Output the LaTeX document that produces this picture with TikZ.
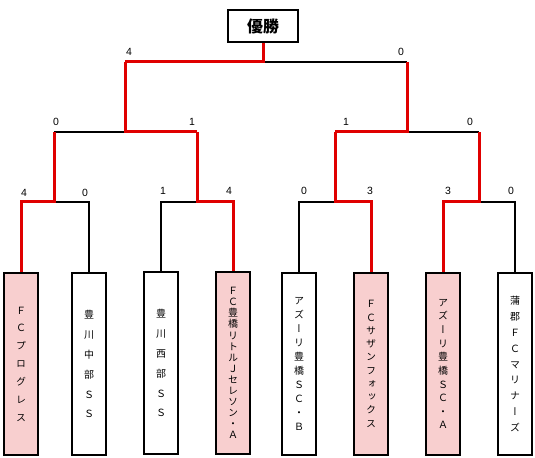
\documentclass[tikz,border=0pt]{standalone}
\usepackage{fontspec}
\setmainfont{Liberation Sans}
\newfontfamily\cjk{Noto Sans CJK JP}
\newfontfamily\cjkv[RawFeature=+vert]{Noto Sans CJK JP}
\definecolor{winred}{RGB}{224,0,0}
\definecolor{winpink}{RGB}{248,207,207}
\tikzset{
  team/.style={draw=black, line width=1.8bp, minimum width=34bp, minimum height=182bp,
    inner sep=0pt, align=center},
  winteam/.style={team, fill=winpink},
  champ/.style={draw=black, line width=1.8bp, minimum width=70bp, minimum height=32bp,
    inner sep=0pt, font=\cjk\bfseries\fontsize{16}{18}\selectfont},
  lose/.style={draw=black, line width=1.6bp, line join=miter},
  win/.style={draw=winred, line width=3bp, line join=miter},
  score/.style={font=\fontsize{10.5}{12}\selectfont, inner sep=0pt},
}
\newcommand{\vsp}[1]{\cjkv\fontsize{10}{#1}\selectfont}
\begin{document}
\begin{tikzpicture}[x=1bp, y=-1bp]
\useasboundingbox (0,0) rectangle (535,458);
% champion
\node[champ] (champ) at (263,26) {優勝};
% teams
\node[winteam, font=\vsp{17.9}] (t1) at (21,364) {Ｆ\\Ｃ\\プ\\ロ\\グ\\レ\\ス};
\node[team, font=\vsp{20}] (t2) at (89,364) {豊\\川\\中\\部\\Ｓ\\Ｓ};
\node[team, font=\vsp{20}] (t3) at (161,363) {豊\\川\\西\\部\\Ｓ\\Ｓ};
\node[winteam, font=\vsp{11.1}] (t4) at (233,363) {Ｆ\\Ｃ\\豊\\橋\\リ\\ト\\ル\\Ｊ\\セ\\レ\\ソ\\ン\\・\\Ａ};
\node[team, font=\vsp{14}] (t5) at (299,364) {ア\\ズ\\ー\\リ\\豊\\橋\\Ｓ\\Ｃ\\・\\Ｂ};
\node[winteam, font=\vsp{13.3}] (t6) at (371,364) {Ｆ\\Ｃ\\サ\\ザ\\ン\\フ\\ォ\\ッ\\ク\\ス};
\node[winteam, font=\vsp{13.7}] (t7) at (443,364) {ア\\ズ\\ー\\リ\\豊\\橋\\Ｓ\\Ｃ\\・\\Ａ};
\node[team, font=\vsp{16}] (t8) at (515,364) {蒲\\郡\\Ｆ\\Ｃ\\マ\\リ\\ナ\\ー\\ズ};
% join points
\coordinate (j1) at (54,202);
\coordinate (j2) at (197,202);
\coordinate (j3) at (335,202);
\coordinate (j4) at (479,202);
\coordinate (k1) at (125,132);
\coordinate (k2) at (407,132);
\coordinate (f) at (263,62);
% losing lines
\draw[lose] (t2.north) |- (j1);
\draw[lose] (t3.north) |- (j2);
\draw[lose] (t5.north) |- (j3);
\draw[lose] (t8.north) |- (j4);
\draw[lose] (j1 |- k1) -- (k1);
\draw[lose] (j4 |- k2) -- (k2);
\draw[lose] (k2 |- f) -- (f);
% winning lines
\draw[win] (t1.north) |- (j1) -- (j1 |- k1);
\draw[win] (t4.north) |- (j2) -- (j2 |- k1);
\draw[win] (t6.north) |- (j3) -- (j3 |- k2);
\draw[win] (t7.north) |- (j4) -- (j4 |- k2);
\draw[win] (j2 |- k1) -- (k1) -- (k1 |- f);
\draw[win] (j3 |- k2) -- (k2) -- (k2 |- f);
\draw[win] (k1 |- f) -- (f) -- (champ.south);
% scores
\node[score] (s1) at (24,193) {4};
\node[score] (s2) at (85,193) {0};
\node[score] (s3) at (163,191) {1};
\node[score] (s4) at (229,191) {4};
\node[score] (s5) at (304,191) {0};
\node[score] (s6) at (370,191) {3};
\node[score] (s7) at (448,191) {3};
\node[score] (s8) at (511,191) {0};
\node[score] (s9) at (56,122) {0};
\node[score] (s10) at (192,122) {1};
\node[score] (s11) at (346,122) {1};
\node[score] (s12) at (470,122) {0};
\node[score] (s13) at (129,52) {4};
\node[score] (s14) at (401,52) {0};
\end{tikzpicture}
\end{document}
